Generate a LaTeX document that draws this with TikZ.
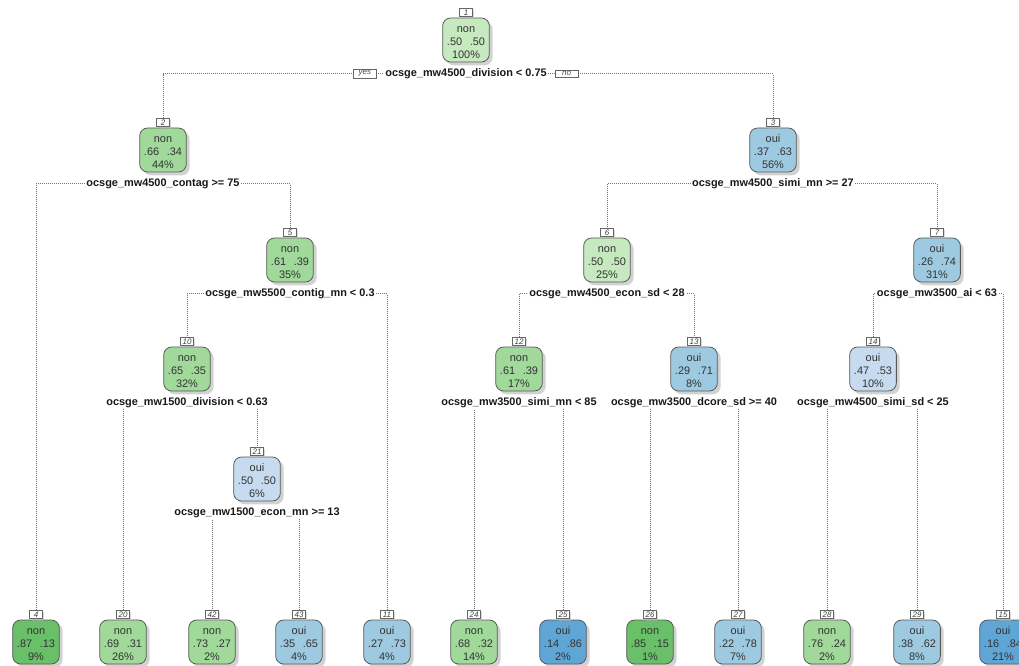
\documentclass[tikz,border=0pt]{standalone}
\usepackage{fontspec}
\setmainfont{Liberation Sans}
\usepackage{xcolor}
\usetikzlibrary{positioning,shadows}

\definecolor{grA}{HTML}{C7E9C0}
\definecolor{grB}{HTML}{A1D99B}
\definecolor{grC}{HTML}{6ABF69}
\definecolor{blA}{HTML}{C6DBEF}
\definecolor{blB}{HTML}{9ECAE1}
\definecolor{blC}{HTML}{5FA6D6}

\pgfdeclarelayer{back}
\pgfdeclarelayer{lines}
\pgfsetlayers{back,lines,main}

\begin{document}
\begin{tikzpicture}[
  x=0.75pt, y=-0.75pt,
  nbox/.style={draw=black!65, line width=0.6pt, rounded corners=6pt, minimum width=35pt, minimum height=33pt,
    align=center, text=black!80, inner sep=1pt, font=\fontsize{8.2}{9.75}\selectfont,
    drop shadow={shadow xshift=2.5pt, shadow yshift=-2.5pt, fill=black!35}},
  ntag/.style={draw=black!60, line width=0.4pt, fill=white, inner sep=0.7pt, minimum width=9.5pt, minimum height=6.5pt,
    font=\fontsize{6}{6}\selectfont\itshape, text=black!75,
    drop shadow={shadow xshift=1.5pt, shadow yshift=-1.5pt, fill=black!30}},
  splitlab/.style={inner sep=1pt, fill=white, font=\fontsize{8.2}{9.75}\selectfont\bfseries, text=black!90},
  yesno/.style={draw=black!60, line width=0.4pt, fill=white, inner sep=1pt, minimum width=17pt,
    font=\fontsize{6}{6}\selectfont\itshape, text=black!70},
  conn/.style={draw=black!55, densely dotted, line width=0.5pt}
]
\useasboundingbox (0,0) rectangle (1019,666);
\clip (0,0) rectangle (1019,666);
\begin{pgfonlayer}{back}
  \fill[white] (0,0) rectangle (1019,666);
\end{pgfonlayer}

% split nodes
\foreach \nm/\x/\y/\col/\cls/\pa/\pb/\pct in {
  1/466/40/grA/non/.50/.50/100, 2/163/150/grB/non/.66/.34/44, 3/773/150/blB/oui/.37/.63/56,
  5/290/260/grB/non/.61/.39/35, 6/607/260/grA/non/.50/.50/25, 7/937/260/blB/oui/.26/.74/31,
  10/187/369/grB/non/.65/.35/32, 12/519/369/grB/non/.61/.39/17, 13/694/369/blB/oui/.29/.71/8,
  14/873/369/blA/oui/.47/.53/10, 21/257/479/blA/oui/.50/.50/6} {
  \node[nbox, fill=\col] (n\nm) at (\x,\y) {\rule{0pt}{9pt}\cls\\\pa\hspace{0.7em}\pb\\\pct\%};
  \node[ntag, above=0.5pt of n\nm] (t\nm) {\nm};
}

% leaves
\foreach \nm/\x/\col/\cls/\pa/\pb/\pct in {
  4/36/grC/non/.87/.13/9, 20/123/grB/non/.69/.31/26, 42/212/grB/non/.73/.27/2,
  43/299/blB/oui/.35/.65/4, 11/387/blB/oui/.27/.73/4, 24/474/grB/non/.68/.32/14,
  25/563/blC/oui/.14/.86/2, 26/650/grC/non/.85/.15/1, 27/738/blB/oui/.22/.78/7,
  28/827/grB/non/.76/.24/2, 29/917/blB/oui/.38/.62/8, 15/1003/blC/oui/.16/.84/21} {
  \node[nbox, fill=\col] (n\nm) at (\x,642) {\rule{0pt}{9pt}\cls\\\pa\hspace{0.7em}\pb\\\pct\%};
  \node[ntag, above=0.5pt of n\nm] (t\nm) {\nm};
}

% split labels
\foreach \nm/\txt in {
  1/ocsge\_mw4500\_division < 0.75, 2/ocsge\_mw4500\_contag >= 75,
  3/ocsge\_mw4500\_simi\_mn >= 27, 5/ocsge\_mw5500\_contig\_mn < 0.3,
  6/ocsge\_mw4500\_econ\_sd < 28, 7/ocsge\_mw3500\_ai < 63,
  10/ocsge\_mw1500\_division < 0.63, 12/ocsge\_mw3500\_simi\_mn < 85,
  13/ocsge\_mw3500\_dcore\_sd >= 40, 14/ocsge\_mw4500\_simi\_sd < 25,
  21/ocsge\_mw1500\_econ\_mn >= 13} {
  \node[splitlab, below=3.4pt of n\nm] (s\nm) {\txt};
}
\node[yesno, left=5.5pt of s1] (yes) {yes};
\node[yesno, right=5pt of s1] (no) {no};

% connectors (under the labels)
\begin{pgfonlayer}{lines}
\draw[conn] (yes.east) -- (s1.west);
\draw[conn] (s1.east) -- (no.west);
\draw[conn] (yes.west) -| (t2.north);
\draw[conn] (no.east) -| (t3.north);
\foreach \p/\l/\r in {2/4/5, 3/6/7, 5/10/11, 6/12/13, 7/14/15,
  10/20/21, 12/24/25, 13/26/27, 14/28/29, 21/42/43} {
  \draw[conn] (s\p.center) -| (t\l.north);
  \draw[conn] (s\p.center) -| (t\r.north);
}
\end{pgfonlayer}
\end{tikzpicture}
\end{document}
